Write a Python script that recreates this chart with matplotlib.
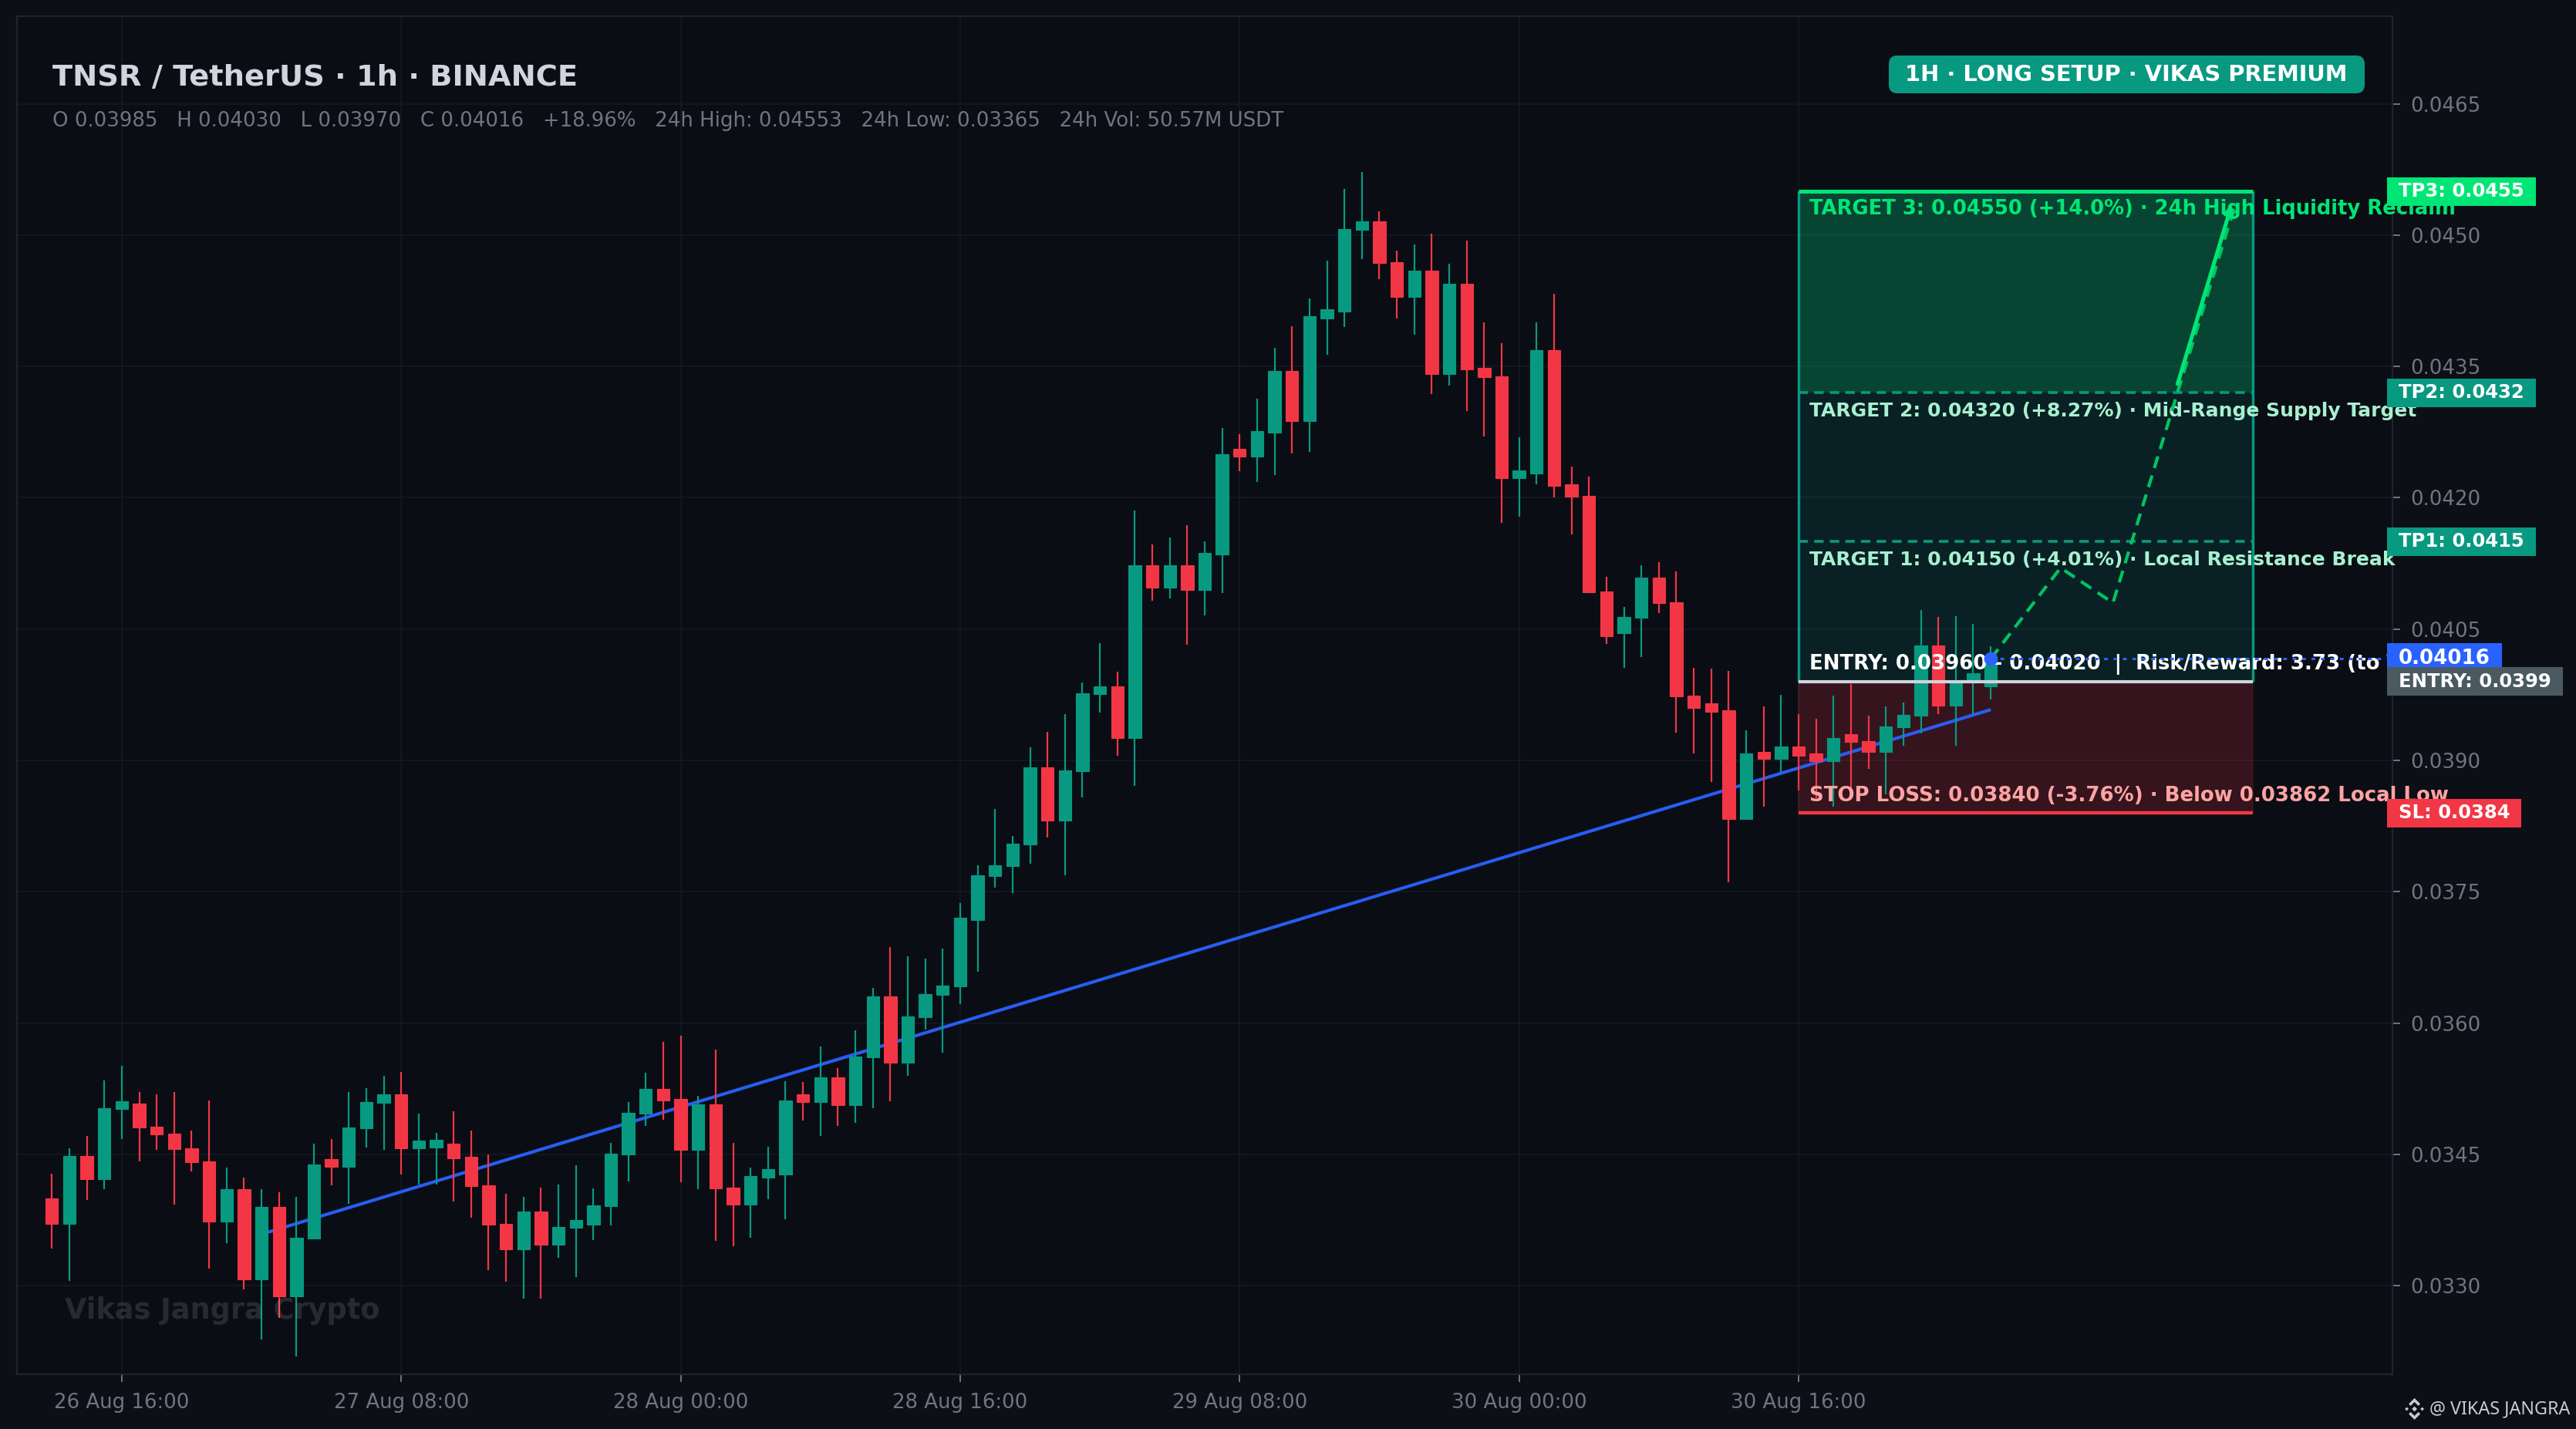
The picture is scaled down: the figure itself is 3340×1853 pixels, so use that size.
import matplotlib
matplotlib.use("Agg")
import matplotlib.pyplot as plt
from matplotlib.patches import Polygon, Rectangle, FancyBboxPatch
from matplotlib.transforms import IdentityTransform

# ---------- data (hourly candles, price in USDT) ----------
opens = [
0.03400,0.03371,0.03448,0.03422,0.03502,0.03508,0.03482,0.03474,0.03457,0.03442,
0.03373,0.03410,0.03307,0.03390,0.03288,0.03354,0.03445,0.03436,0.03480,0.03509,
0.03519,0.03457,0.03458,0.03462,0.03447,0.03415,0.03371,0.03342,0.03385,0.03347,
0.03366,0.03370,0.03391,0.03450,0.03497,0.03525,0.03513,0.03455,0.03507,0.03412,
0.03393,0.03424,0.03427,0.03519,0.03510,0.03538,0.03506,0.03561,0.03631,0.03555,
0.03607,0.03632,0.03642,0.03718,0.03768,0.03779,0.03804,0.03892,0.03831,0.03888,
0.03976,0.03985,0.03926,0.04123,0.04097,0.04123,0.04095,0.04135,0.04256,0.04247,
0.04274,0.04345,0.04288,0.04405,0.04413,0.04506,0.04516,0.04469,0.04429,0.04459,
0.04341,0.04444,0.04348,0.04339,0.04222,0.04228,0.04369,0.04215,0.04202,0.04093,
0.04045,0.04063,0.04109,0.04081,0.03974,0.03965,0.03957,0.03833,0.03910,0.03902,
0.03916,0.03908,0.03899,0.03930,0.03922,0.03910,0.03938,0.03951,0.04031,0.03963,
0.03989,0.03985]
highs = [
0.03428,0.03457,0.03471,0.03535,0.03551,0.03521,0.03519,0.03521,0.03477,0.03512,
0.03435,0.03424,0.03410,0.03407,0.03402,0.03462,0.03468,0.03521,0.03526,0.03540,
0.03544,0.03497,0.03475,0.03499,0.03477,0.03450,0.03405,0.03402,0.03412,0.03416,
0.03438,0.03411,0.03463,0.03510,0.03543,0.03579,0.03586,0.03517,0.03570,0.03463,
0.03435,0.03459,0.03534,0.03533,0.03573,0.03549,0.03592,0.03640,0.03687,0.03676,
0.03674,0.03685,0.03737,0.03780,0.03845,0.03814,0.03915,0.03933,0.03953,0.03989,
0.04034,0.04001,0.04185,0.04147,0.04155,0.04169,0.04150,0.04280,0.04273,0.04313,
0.04371,0.04396,0.04428,0.04471,0.04553,0.04572,0.04527,0.04482,0.04489,0.04502,
0.04467,0.04494,0.04400,0.04377,0.04269,0.04400,0.04433,0.04236,0.04224,0.04110,
0.04075,0.04123,0.04126,0.04116,0.04006,0.04005,0.04002,0.03934,0.03962,0.03975,
0.03953,0.03948,0.03974,0.03987,0.03951,0.03962,0.03966,0.04072,0.04064,0.04065,
0.04056,0.04030]
lows = [
0.03343,0.03306,0.03398,0.03410,0.03468,0.03442,0.03455,0.03393,0.03431,0.03320,
0.03349,0.03296,0.03239,0.03263,0.03219,0.03354,0.03415,0.03394,0.03458,0.03455,
0.03427,0.03416,0.03416,0.03396,0.03378,0.03318,0.03305,0.03285,0.03285,0.03332,
0.03310,0.03352,0.03369,0.03419,0.03483,0.03490,0.03418,0.03410,0.03351,0.03345,
0.03355,0.03399,0.03376,0.03489,0.03471,0.03483,0.03486,0.03503,0.03511,0.03540,
0.03593,0.03566,0.03622,0.03659,0.03755,0.03749,0.03782,0.03812,0.03769,0.03858,
0.03955,0.03905,0.03871,0.04082,0.04085,0.04032,0.04066,0.04091,0.04230,0.04218,
0.04226,0.04251,0.04252,0.04363,0.04395,0.04473,0.04450,0.04405,0.04386,0.04318,
0.04328,0.04299,0.04270,0.04171,0.04178,0.04215,0.04200,0.04158,0.04157,0.04033,
0.04006,0.04018,0.04068,0.03932,0.03908,0.03875,0.03761,0.03833,0.03847,0.03886,
0.03866,0.03857,0.03847,0.03862,0.03890,0.03861,0.03917,0.03931,0.03953,0.03917,
0.03953,0.03970]
closes = [
0.03371,0.03448,0.03422,0.03503,0.03511,0.03481,0.03473,0.03456,0.03441,0.03373,
0.03410,0.03307,0.03390,0.03288,0.03355,0.03439,0.03436,0.03481,0.03510,0.03519,
0.03457,0.03466,0.03467,0.03446,0.03414,0.03370,0.03342,0.03385,0.03347,0.03367,
0.03375,0.03392,0.03451,0.03498,0.03525,0.03512,0.03455,0.03507,0.03411,0.03393,
0.03425,0.03433,0.03512,0.03510,0.03538,0.03506,0.03562,0.03631,0.03555,0.03608,
0.03633,0.03643,0.03720,0.03769,0.03780,0.03805,0.03892,0.03831,0.03889,0.03977,
0.03985,0.03926,0.04123,0.04097,0.04123,0.04095,0.04137,0.04250,0.04247,0.04276,
0.04345,0.04288,0.04407,0.04415,0.04507,0.04516,0.04468,0.04429,0.04459,0.04341,
0.04444,0.04347,0.04338,0.04222,0.04231,0.04369,0.04214,0.04201,0.04092,0.04042,
0.04064,0.04109,0.04080,0.03973,0.03960,0.03956,0.03833,0.03908,0.03902,0.03916,
0.03905,0.03899,0.03926,0.03921,0.03910,0.03939,0.03952,0.04031,0.03963,0.03990,
0.04000,0.04016]

xtick_idx = [4, 20, 36, 52, 68, 84, 100]
xtick_labels = ["26 Aug 16:00", "27 Aug 08:00", "28 Aug 00:00", "28 Aug 16:00",
                "29 Aug 08:00", "30 Aug 00:00", "30 Aug 16:00"]
ytick_vals = [0.0330, 0.0345, 0.0360, 0.0375, 0.0390, 0.0405, 0.0420, 0.0435, 0.0450, 0.0465]

trend_x = [12, 111]
trend_y = [0.03359, 0.03958]
path_x = [111, 115, 118, 125]
path_y = [0.04016, 0.0412, 0.0408, 0.04535]
arrow_start = (121.7, 0.0433)
arrow_end = (124.8, 0.04535)

zone_x = (100, 126)
entry, tp1, tp2, tp3, sl = 0.0399, 0.0415, 0.0432, 0.0455, 0.0384
last_price = 0.04016

BG = "#0a0d14"; FIG = "#0c0f16"; GRID = "#161922"; SPINE = "#20232c"
GREEN = "#089981"; RED = "#F23645"; BLUE = "#2962FF"; LIME = "#00E676"
TICK = "#70747f"

W, H, DPI = 3341, 1853, 200
fig = plt.figure(figsize=(W / DPI, H / DPI), dpi=DPI, facecolor=FIG)
ax = fig.add_axes([22 / W, (H - 1782) / H, (3102 - 22) / W, (1782 - 21) / H], facecolor=BG)
ax.set_xlim(-2, 134)
ax.set_ylim(0.03199, 0.04750)

# grid / axes
ax.set_xticks(xtick_idx, xtick_labels)
ax.set_yticks(ytick_vals, [f"{v:.4f}" for v in ytick_vals])
ax.yaxis.tick_right()
ax.grid(True, color=GRID, lw=0.6, zorder=0)
ax.set_axisbelow(True)
ax.tick_params(axis="x", colors=TICK, labelsize=9.35, length=3.6, width=0.7, pad=5)
ax.tick_params(axis="y", colors=TICK, labelsize=9.35, length=3.6, width=0.7, pad=4.6)
for s in ax.spines.values():
    s.set_color(SPINE); s.set_linewidth(0.8)

# watermark
fig.text(84 / W, 1 - 1700 / H, "Vikas Jangra Crypto", color="#ffffff", alpha=0.12, fontsize=13.2,
         fontweight="bold", va="center", ha="left", zorder=1)

# zones
x0, x1 = zone_x
ax.fill_between(zone_x, entry, tp3, color=GREEN, alpha=0.15, lw=0, zorder=1)
ax.fill_between(zone_x, tp2, tp3, color=LIME, alpha=0.18, lw=0, zorder=1.1)
ax.fill_between(zone_x, sl, entry, color=RED, alpha=0.19, lw=0, zorder=1)
ax.plot([x0, x0], [sl, entry], color=RED, alpha=0.12, lw=0.7, zorder=1.2)
ax.plot([x1, x1], [sl, entry], color=RED, alpha=0.12, lw=0.7, zorder=1.2)
ax.plot([x0, x0], [entry, tp3], color=GREEN, lw=1.25, zorder=4, solid_capstyle="butt")
ax.plot([x1, x1], [entry, tp3], color=GREEN, lw=1.25, zorder=4, solid_capstyle="butt")

# trend line, candles
ax.plot(trend_x, trend_y, color=BLUE, lw=1.5, zorder=2, alpha=0.95, solid_capstyle="butt")
for i, (o, h, l, c) in enumerate(zip(opens, highs, lows, closes)):
    col = GREEN if c >= o else RED
    ax.vlines(i, l, h, color=col, lw=0.8, zorder=3)
    ax.bar(i, abs(c - o), bottom=min(o, c), width=0.72, color=col, edgecolor=col, lw=0.4, zorder=3.1)

# level lines
ax.plot(zone_x, [tp3, tp3], color=LIME, lw=1.8, zorder=4.5, solid_capstyle="butt")
ax.plot(zone_x, [tp2, tp2], color=GREEN, lw=1.3, ls=(0, (3.4, 2.2)), zorder=4.5)
ax.plot(zone_x, [tp1, tp1], color=GREEN, lw=1.3, ls=(0, (3.4, 2.2)), zorder=4.5)
ax.plot(zone_x, [entry, entry], color="#D1D4DC", lw=1.5, zorder=4.5, solid_capstyle="butt")
ax.plot(zone_x, [sl, sl], color=RED, lw=1.6, zorder=4.5, solid_capstyle="butt")

# zone captions
cap = dict(fontweight="bold", va="center", ha="left", clip_on=False, zorder=6)
ax.text(100.6, 0.04530, "TARGET 3: 0.04550 (+14.0%) · 24h High Liquidity Reclaim", color=LIME, fontsize=9.33, **cap)
ax.text(100.6, 0.04299, "TARGET 2: 0.04320 (+8.27%) · Mid-Range Supply Target", color="#A8F0D0", fontsize=9.0, **cap)
ax.text(100.6, 0.04129, "TARGET 1: 0.04150 (+4.01%) · Local Resistance Break", color="#A8F0D0", fontsize=9.0, **cap)
ax.text(100.6, 0.04010, "ENTRY: 0.03960 - 0.04020  |  Risk/Reward: 3.73 (to TP3)", color="#ffffff", fontsize=9.35, **cap)
ax.text(100.6, 0.03860, "STOP LOSS: 0.03840 (-3.76%) · Below 0.03862 Local Low", color="#FFA3A3", fontsize=9.35, **cap)

# projected path
ax.plot(path_x, path_y, color="#00C464", lw=1.5, ls=(0, (3.8, 2.4)), zorder=7)
ax.annotate("", xy=arrow_end, xytext=arrow_start, zorder=7,
            arrowprops=dict(arrowstyle="-|>", color=LIME, lw=1.8, mutation_scale=8,
                            shrinkA=0, shrinkB=0))

# last price
ax.plot([111, 134], [last_price, last_price], color=BLUE, lw=1.1, ls=(0, (1.6, 2.4)), zorder=7)
ax.plot([111], [last_price], "o", color=BLUE, ms=6.4, mew=0, zorder=8)

# right labels
trans = ax.get_yaxis_transform()
renderer = fig.canvas.get_renderer()
def tag(y, s, bg, z=10, size=8.75, height=37):
    t = ax.text((3110 - 22) / 3080, y, s, color="white", fontsize=size, fontweight="bold",
                va="center", ha="left", transform=trans, clip_on=False, zorder=z + 0.1)
    ext = t.get_window_extent(renderer)
    yc = ax.transData.transform((0, y))[1]
    ax.add_patch(Rectangle((3095, yc - height / 2), ext.x1 + 15 - 3095, height, fc=bg, ec="none",
                           transform=IdentityTransform(), clip_on=False, zorder=z))
tag(tp3, "TP3: 0.0455", LIME)
tag(tp2, "TP2: 0.0432", GREEN)
tag(tp1, "TP1: 0.0415", GREEN)
tag(last_price, "0.04016", BLUE, 10, 9.4, 41)
tag(entry, "ENTRY: 0.0399", "#4A5A60", 11)
tag(sl, "SL: 0.0384", RED)

# header
fig.text(68 / W, 1 - 101 / H, "TNSR / TetherUS · 1h · BINANCE", color="#D1D4DC", fontsize=13.8,
         fontweight="bold", va="center", ha="left")
fig.text(68 / W, 1 - 157 / H,
         "O 0.03985   H 0.04030   L 0.03970   C 0.04016   +18.96%   24h High: 0.04553   24h Low: 0.03365   24h Vol: 50.57M USDT",
         color="#70747f", fontsize=9.36, va="center", ha="left")
fig.add_artist(FancyBboxPatch((2449, H - 121), 617, 49, boxstyle="round,pad=0,rounding_size=11",
                              fc=GREEN, ec="none", transform=IdentityTransform(), zorder=9))
fig.text(2757 / W, 1 - 97 / H, "1H · LONG SETUP · VIKAS PREMIUM", color="white", fontsize=10.4,
         fontweight="bold", va="center", ha="center", zorder=10)

# footer mark
cx, cy = 3130.6, H - 1827
col = "#c8cccc"
shapes = [
    [(0, 3.4), (3.4, 0), (0, -3.4), (-3.4, 0)],
    [(-10, 2.4), (-7.6, 0), (-10, -2.4), (-12.4, 0)],
    [(10, 2.4), (12.4, 0), (10, -2.4), (7.6, 0)],
    [(0, 14), (7.5, 6.5), (5, 4), (0, 9), (-5, 4), (-7.5, 6.5)],
    [(0, -14), (7.5, -6.5), (5, -4), (0, -9), (-5, -4), (-7.5, -6.5)],
]
for sh in shapes:
    fig.add_artist(Polygon([(cx + a, cy + b) for a, b in sh], closed=True, fc=col, ec="none",
                           transform=IdentityTransform()))
fig.text(3150 / W, 1 - 1827 / H, "@ VIKAS JANGRA", color=col, fontsize=8.4, family="Noto Sans",
         va="center", ha="left")

fig.savefig("out.png", dpi=DPI, facecolor=FIG)
